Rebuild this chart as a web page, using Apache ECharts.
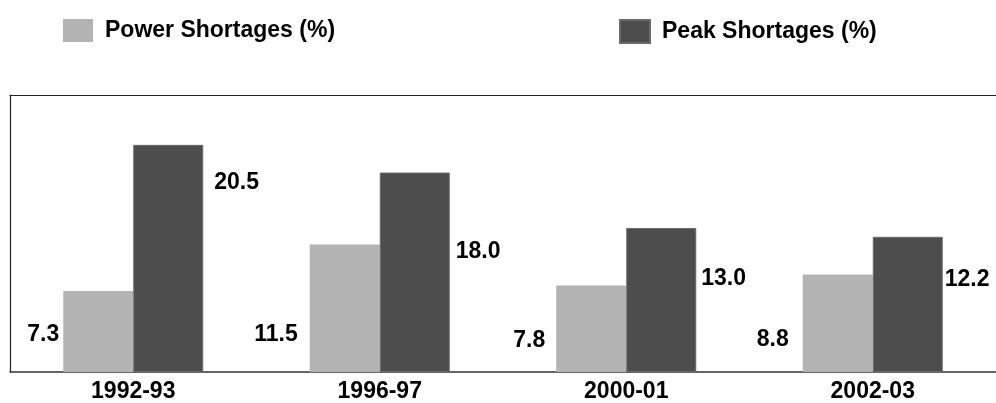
<!DOCTYPE html>
<html>
<head>
<meta charset="utf-8">
<style>
html,body{margin:0;padding:0;background:#fff;}
#chart{width:996px;height:403px;}
</style>
<script src="https://cdn.jsdelivr.net/npm/echarts@6/dist/echarts.min.js"></script>
</head>
<body>
<div id="chart"></div>
<script>
// ---- data ----
var categories = ['1992-93', '1996-97', '2000-01', '2002-03'];
var powerShortages = [7.3, 11.5, 7.8, 8.8];
var peakShortages = [20.5, 18.0, 13.0, 12.2];
var seriesNames = ['Power Shortages (%)', 'Peak Shortages (%)'];

// ---- label layout (styling only) ----
var powerLabelDist = [4, 12, 11, 14];
var powerLabelDy = [3, 26, 12, 16];
var peakLabelDist = [11, 6, 5, 2];
var peakLabelDy = [-76, -21, -21, -25];

var font = '"Liberation Sans", Arial, Helvetica, sans-serif';

function items(vals, dists, dys, pos) {
  return vals.map(function (v, i) {
    return {
      value: v,
      label: { position: pos, distance: dists[i], offset: [0, dys[i]] }
    };
  });
}

var chart = echarts.init(document.getElementById('chart'), null, {renderer: 'canvas'});
var legendText = { fontFamily: font, fontSize: 23, fontWeight: 'bold', color: '#000', padding: [0, 0, 0, 7] };
var labelStyle = { show: true, fontFamily: font, fontSize: 23, fontWeight: 'bold', color: '#000',
                   formatter: function (p) { return p.value.toFixed(1); } };
chart.setOption({
  animation: false,
  backgroundColor: '#fff',
  legend: [
    { data: [seriesNames[0]], left: 58, top: 14, icon: 'rect', itemWidth: 30, itemHeight: 23, textStyle: legendText },
    { data: [seriesNames[1]], left: 614, top: 14, icon: 'rect', itemWidth: 30, itemHeight: 23, textStyle: legendText }
  ],
  grid: {
    left: 10, top: 95, width: 988, height: 279, show: false, containLabel: false
  },
  xAxis: [
    {
      type: 'category',
      data: categories,
      axisLine: { show: true, lineStyle: { color: '#333', width: 1.5 } },
      axisTick: { show: false },
      axisLabel: { fontFamily: font, fontSize: 23, fontWeight: 'bold', color: '#000', margin: 8 },
      splitLine: { show: false }
    },
    {
      type: 'category', position: 'top',
      data: categories,
      axisLine: { show: true, lineStyle: { color: '#222', width: 1.2 } },
      axisTick: { show: false },
      axisLabel: { show: false },
      splitLine: { show: false }
    }
  ],
  yAxis: {
    type: 'value', min: 0, max: 25,
    axisLine: { show: true, onZero: false, lineStyle: { color: '#222', width: 1.2 } },
    axisTick: { show: false },
    axisLabel: { show: false },
    splitLine: { show: false }
  },
  series: [
    {
      name: seriesNames[0], type: 'bar', barWidth: 70, barGap: '0%',
      itemStyle: { color: '#b3b3b3' },
      label: labelStyle,
      data: items(powerShortages, powerLabelDist, powerLabelDy, 'left')
    },
    {
      name: seriesNames[1], type: 'bar', barWidth: 70, barGap: '0%',
      itemStyle: { color: '#4d4d4d', borderColor: '#6a6a6a', borderWidth: 1 },
      label: labelStyle,
      data: items(peakShortages, peakLabelDist, peakLabelDy, 'right')
    }
  ]
});
</script>
</body>
</html>
